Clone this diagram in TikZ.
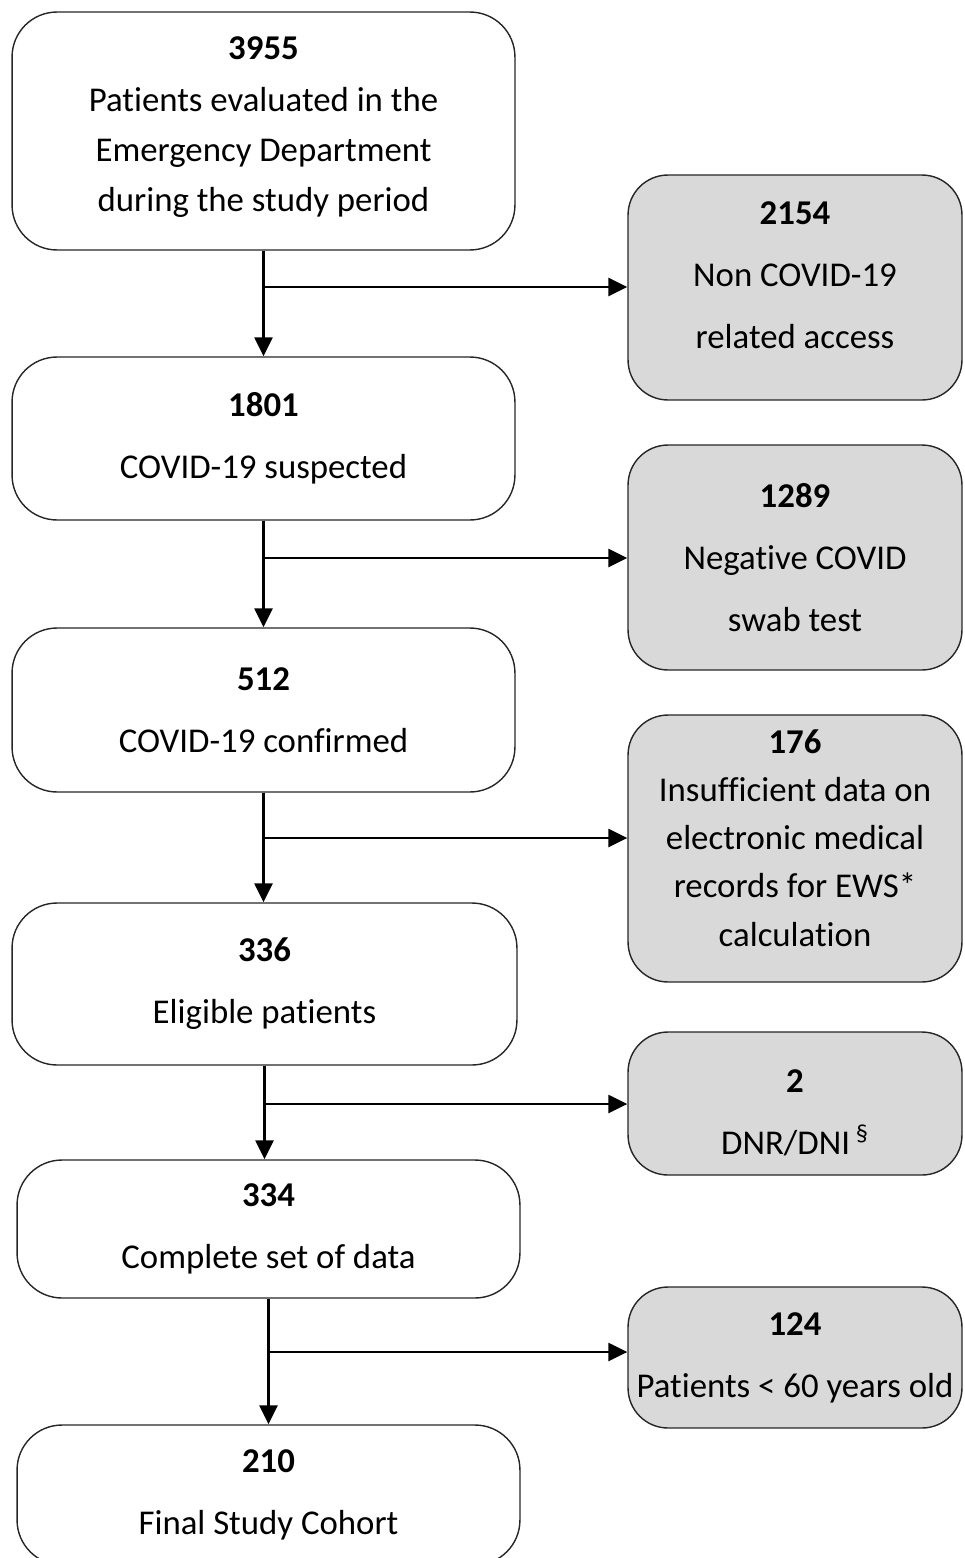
\documentclass[tikz,border=0pt]{standalone}
\usepackage{fontspec}
\setmainfont{Carlito}[Ligatures=NoCommon]
\usetikzlibrary{arrows.meta}
\definecolor{boxgray}{HTML}{D9D9D9}
\newcommand{\lowpad}[1]{\rule[-#1]{0pt}{1pt}}
\newcommand{\toppad}[1]{\rule{0pt}{#1}}

\begin{document}
\begin{tikzpicture}[x=0.02cm,y=-0.02cm,
		box/.style={draw=black!85,line width=0.8pt,rounded corners=0.9cm,align=center,inner sep=0pt,
			font=\fontsize{19.8}{28.4}\selectfont},
		outbox/.style={box,fill=boxgray,rounded corners=0.8cm},
		arr/.style={line width=1.4pt,-{Triangle[length=0.38cm,width=0.36cm]}}]
			\useasboundingbox (0,0) rectangle (964,1558);
			% main flow
			\node[box,minimum width=10.06cm,minimum height=4.76cm] (b1) at (263.5,131)
				{\textbf{3955}\\[1pt]Patients evaluated in the\\Emergency Department\\during the study period\lowpad{8pt}};
			\node[box,minimum width=10.06cm,minimum height=3.26cm] (b2) at (263.5,438.5)
				{\textbf{1801}\\[7pt]COVID-19 suspected};
			\node[box,minimum width=10.06cm,minimum height=3.28cm] (b3) at (263.5,710)
				{\textbf{512}\\[7pt]COVID-19 confirmed};
			\node[box,minimum width=10.1cm,minimum height=3.24cm] (b4) at (264.5,984)
				{\textbf{336}\\[7pt]Eligible patients};
			\node[box,minimum width=10.06cm,minimum height=2.76cm] (b5) at (268.5,1229)
				{\textbf{334}\\[7pt]Complete set of data};
			\node[box,minimum width=10.06cm,minimum height=2.8cm] (b6) at (268.5,1495)
				{\textbf{210}\\[7pt]Final Study Cohort};
			% excluded
			\node[outbox,minimum width=6.68cm,minimum height=4.5cm] (r1) at (795,287.5)
				{\textbf{2154}\\[7pt]Non COVID-19\\[7pt]related access\lowpad{14pt}};
			\node[outbox,minimum width=6.68cm,minimum height=4.5cm] (r2) at (795,557.5)
				{\textbf{1289}\\[7pt]Negative COVID\\[7pt]swab test};
			\node[outbox,minimum width=6.68cm,minimum height=5.34cm] (r3) at (795,848.5)
				{\textbf{176}\\[-1pt]Insufficient data on\\[-1pt]electronic medical\\[-1pt]records for EWS*\\[-1pt]calculation\lowpad{12pt}};
			\node[outbox,minimum width=6.68cm,minimum height=2.86cm] (r4) at (795,1103.5)
				{\toppad{24pt}\textbf{2}\\[7pt]DNR/DNI\,\textsuperscript{§}};
			\node[outbox,minimum width=6.68cm,minimum height=2.82cm] (r5) at (795,1357.5)
				{\textbf{124}\\[7pt]Patients < 60 years old};
			% arrows
			\draw[arr] (b1.south) -- (b1.south |- b2.north);
			\draw[arr] (b2.south) -- (b2.south |- b3.north);
			\draw[arr] (b3.south) -- (b3.south |- b4.north);
			\draw[arr] (b4.south) -- (b4.south |- b5.north);
			\draw[arr] (b5.south) -- (b5.south |- b6.north);
			\coordinate (j1) at (263,287);
			\coordinate (j2) at (263,558);
			\coordinate (j3) at (263,838);
			\coordinate (j4) at (264,1104);
			\coordinate (j5) at (268,1352);
			\draw[arr] (j1) -- (j1 -| r1.west);
			\draw[arr] (j2) -- (j2 -| r2.west);
			\draw[arr] (j3) -- (j3 -| r3.west);
			\draw[arr] (j4) -- (j4 -| r4.west);
			\draw[arr] (j5) -- (j5 -| r5.west);
		\end{tikzpicture}
\end{document}
